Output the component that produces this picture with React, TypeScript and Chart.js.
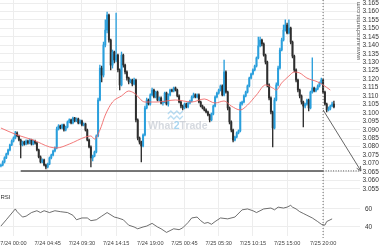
import React, { useEffect, useRef } from 'react';
import { Chart, registerables } from 'chart.js';
Chart.register(...registerables);

const SLOT_COUNT = 200;

const tickIndex = [7, 26, 45, 64, 83, 102, 121, 140, 159, 179];
const tickLabels = ['7/24 00:00', '7/24 04:45', '7/24 09:30', '7/24 14:15', '7/24 19:00', '7/25 00:45', '7/25 05:30', '7/25 10:15', '7/25 15:00', '7/25 20:00'];
const priceTicks = [3.055, 3.06, 3.065, 3.07, 3.075, 3.08, 3.085, 3.09, 3.095, 3.1, 3.105, 3.11, 3.115, 3.12, 3.125, 3.13, 3.135, 3.14, 3.145, 3.15, 3.155, 3.16, 3.165];
const rsiTicks = [40, 60];

const openPrices = [
  3.0685,3.0691,3.0709,3.0733,3.0756,3.0780,3.0810,3.0833,3.0851,3.0881,
  3.0863,3.0839,3.0810,3.0827,3.0815,3.0833,3.0821,3.0839,3.0815,3.0833,
  3.0821,3.0780,3.0739,3.0709,3.0721,3.0691,3.0679,3.0697,3.0733,3.0750,
  3.0774,3.0792,3.0904,3.0922,3.0910,3.0928,3.0898,3.0916,3.0946,3.0958,
  3.0940,3.0969,3.0952,3.0964,3.0940,3.0952,3.0928,3.0934,3.0898,3.0839,
  3.0798,3.0733,3.0744,3.0768,3.0863,3.1076,3.1265,3.1224,3.1402,3.1490,
  3.1579,3.1431,3.1283,3.1360,3.1313,3.1342,3.1254,3.1165,3.1342,3.1283,
  3.1242,3.1206,3.1183,3.1194,3.1171,3.1194,3.0958,3.0851,3.0827,3.0804,
  3.0869,3.1029,3.1076,3.1052,3.1106,3.1135,3.1094,3.1123,3.1076,3.1088,
  3.1058,3.1064,3.1117,3.1052,3.1106,3.1135,3.1129,3.1147,3.1135,3.1100,
  3.1064,3.1040,3.1029,3.1052,3.1035,3.1058,3.1070,3.1094,3.1106,3.1094,
  3.1106,3.1064,3.1040,3.1029,3.1017,3.1005,3.0987,3.0958,3.0993,3.1040,
  3.1094,3.1117,3.1135,3.1159,3.1106,3.1242,3.1123,3.1029,3.0946,3.0898,
  3.0839,3.0857,3.0881,3.0893,3.1052,3.1064,3.1100,3.1123,3.1159,3.1206,
  3.1230,3.1254,3.1277,3.1325,3.1396,3.1431,3.1408,3.1342,3.1301,3.1165,
  3.1088,3.1005,3.0910,3.1076,3.1165,3.1265,3.1372,3.1431,3.1490,3.1520,
  3.1473,3.1502,3.1419,3.1336,3.1254,3.1194,3.1135,3.1100,3.1064,3.1040,
  3.1052,3.1076,3.1029,3.1123,3.1147,3.1129,3.1141,3.1159,3.1177,3.1194,
  3.1123,3.1052,3.1017,3.1023,3.1040,3.1052
];
const highPrices = [
  3.0697,3.0715,3.0740,3.0762,3.0786,3.0815,3.0840,3.0858,3.0890,3.0887,
  3.0868,3.0845,3.0833,3.0832,3.0840,3.0838,3.0846,3.0844,3.0839,3.0838,
  3.0826,3.0786,3.0745,3.0727,3.0726,3.0697,3.0703,3.0739,3.0756,3.0780,
  3.0798,3.0916,3.0930,3.0927,3.0934,3.0933,3.0922,3.0952,3.0965,3.0963,
  3.0975,3.0974,3.0970,3.0969,3.0958,3.0957,3.0940,3.0939,3.0904,3.0845,
  3.0804,3.0750,3.0774,3.0870,3.1088,3.1283,3.1277,3.1419,3.1550,3.1597,
  3.1585,3.1437,3.1372,3.1366,3.1591,3.1348,3.1260,3.1360,3.1348,3.1289,
  3.1248,3.1212,3.1200,3.1200,3.1206,3.1200,3.0964,3.0857,3.0833,3.0875,
  3.1040,3.1088,3.1082,3.1112,3.1147,3.1141,3.1129,3.1129,3.1094,3.1094,
  3.1070,3.1123,3.1123,3.1112,3.1141,3.1141,3.1153,3.1153,3.1141,3.1106,
  3.1070,3.1046,3.1058,3.1058,3.1064,3.1076,3.1100,3.1117,3.1112,3.1112,
  3.1112,3.1070,3.1046,3.1035,3.1023,3.1011,3.0993,3.0999,3.1046,3.1100,
  3.1123,3.1141,3.1165,3.1165,3.1313,3.1248,3.1129,3.1035,3.0952,3.0904,
  3.0863,3.0887,3.0899,3.1064,3.1070,3.1106,3.1129,3.1165,3.1212,3.1236,
  3.1260,3.1283,3.1331,3.1449,3.1449,3.1437,3.1414,3.1348,3.1307,3.1171,
  3.1094,3.1011,3.1088,3.1177,3.1277,3.1384,3.1443,3.1520,3.1550,3.1532,
  3.1550,3.1508,3.1425,3.1342,3.1260,3.1200,3.1141,3.1106,3.1070,3.1058,
  3.1082,3.1082,3.1129,3.1325,3.1153,3.1147,3.1165,3.1183,3.1206,3.1200,
  3.1129,3.1058,3.1035,3.1046,3.1064,3.1070
];
const lowPrices = [
  3.0679,3.0686,3.0703,3.0728,3.0750,3.0774,3.0805,3.0827,3.0846,3.0857,
  3.0833,3.0733,3.0804,3.0809,3.0810,3.0815,3.0816,3.0809,3.0810,3.0815,
  3.0774,3.0733,3.0703,3.0704,3.0685,3.0668,3.0673,3.0692,3.0727,3.0745,
  3.0768,3.0786,3.0898,3.0904,3.0904,3.0892,3.0893,3.0910,3.0940,3.0934,
  3.0935,3.0946,3.0947,3.0934,3.0935,3.0922,3.0922,3.0892,3.0833,3.0792,
  3.0679,3.0715,3.0739,3.0762,3.0857,3.1070,3.1183,3.1212,3.1390,3.1473,
  3.1419,3.1254,3.1265,3.1295,3.1301,3.1242,3.1135,3.1159,3.1271,3.1230,
  3.1194,3.1171,3.1177,3.1159,3.1165,3.0946,3.0839,3.0815,3.0709,3.0798,
  3.0863,3.1023,3.1046,3.1046,3.1100,3.1088,3.1088,3.1070,3.1070,3.1052,
  3.1046,3.1058,3.1046,3.1040,3.1100,3.1123,3.1123,3.1129,3.1094,3.1058,
  3.1029,3.1017,3.1023,3.1029,3.1029,3.1052,3.1064,3.1088,3.1088,3.1088,
  3.1058,3.1035,3.1023,3.1011,3.0999,3.0981,3.0946,3.0952,3.0987,3.1035,
  3.1088,3.1111,3.1129,3.1100,3.1100,3.1117,3.1017,3.0934,3.0887,3.0827,
  3.0833,3.0851,3.0875,3.0887,3.1046,3.1058,3.1094,3.1117,3.1153,3.1200,
  3.1224,3.1248,3.1271,3.1319,3.1390,3.1396,3.1336,3.1289,3.1153,3.1076,
  3.0993,3.0798,3.0904,3.1070,3.1159,3.1259,3.1366,3.1425,3.1484,3.1467,
  3.1467,3.1408,3.1325,3.1242,3.1183,3.1123,3.1088,3.1052,3.0916,3.1029,
  3.1046,3.1011,3.1023,3.1117,3.1123,3.1123,3.1135,3.1153,3.1171,3.1117,
  3.1046,3.1005,3.1011,3.1017,3.1035,3.1029
];
const closePrices = [
  3.0691,3.0709,3.0733,3.0756,3.0780,3.0810,3.0833,3.0851,3.0881,3.0863,
  3.0839,3.0810,3.0827,3.0815,3.0833,3.0821,3.0839,3.0815,3.0833,3.0821,
  3.0780,3.0739,3.0709,3.0721,3.0691,3.0679,3.0697,3.0733,3.0750,3.0774,
  3.0792,3.0904,3.0922,3.0910,3.0928,3.0898,3.0916,3.0946,3.0958,3.0940,
  3.0969,3.0952,3.0964,3.0940,3.0952,3.0928,3.0934,3.0898,3.0839,3.0798,
  3.0733,3.0744,3.0768,3.0863,3.1076,3.1265,3.1224,3.1402,3.1490,3.1579,
  3.1431,3.1283,3.1360,3.1313,3.1342,3.1254,3.1165,3.1342,3.1283,3.1242,
  3.1206,3.1183,3.1194,3.1171,3.1194,3.0958,3.0851,3.0827,3.0804,3.0869,
  3.1029,3.1076,3.1052,3.1106,3.1135,3.1094,3.1123,3.1076,3.1088,3.1058,
  3.1064,3.1117,3.1052,3.1106,3.1135,3.1129,3.1147,3.1135,3.1100,3.1064,
  3.1040,3.1029,3.1052,3.1035,3.1058,3.1070,3.1094,3.1106,3.1094,3.1106,
  3.1064,3.1040,3.1029,3.1017,3.1005,3.0987,3.0958,3.0993,3.1040,3.1094,
  3.1117,3.1135,3.1159,3.1106,3.1242,3.1123,3.1029,3.0946,3.0898,3.0839,
  3.0857,3.0881,3.0893,3.1052,3.1064,3.1100,3.1123,3.1159,3.1206,3.1230,
  3.1254,3.1277,3.1325,3.1396,3.1431,3.1408,3.1342,3.1301,3.1165,3.1088,
  3.1005,3.0910,3.1076,3.1165,3.1265,3.1372,3.1431,3.1490,3.1520,3.1473,
  3.1502,3.1419,3.1336,3.1254,3.1194,3.1135,3.1100,3.1064,3.1040,3.1052,
  3.1076,3.1029,3.1123,3.1147,3.1129,3.1141,3.1159,3.1177,3.1194,3.1123,
  3.1052,3.1017,3.1023,3.1040,3.1052,3.1035
];

const maIndex = [0, 9, 18, 27, 31, 38, 47, 50, 52, 55, 58, 62, 67, 71, 74, 80, 87, 97, 106, 113, 119, 124, 128, 133, 137, 142, 147, 151, 153, 156, 160, 163, 166, 170, 176, 179, 183];
const maValues = [3.0910, 3.0869, 3.0839, 3.0798, 3.0792, 3.0815, 3.0857, 3.0863, 3.0845, 3.0898, 3.0987, 3.1064, 3.1100, 3.1129, 3.1117, 3.1064, 3.1064, 3.1076, 3.1064, 3.1082, 3.1058, 3.1070, 3.1040, 3.1017, 3.1046, 3.1106, 3.1165, 3.1147, 3.1135, 3.1177, 3.1218, 3.1242, 3.1236, 3.1206, 3.1183, 3.1165, 3.1135];

const rsiIndex = [0, 3, 8, 9, 12, 14, 17, 20, 22, 24, 27, 30, 33, 37, 40, 42, 45, 48, 50, 53, 56, 59, 63, 65, 68, 71, 74, 76, 79, 81, 84, 87, 89, 92, 96, 99, 101, 104, 106, 109, 111, 113, 115, 117, 119, 122, 126, 130, 134, 137, 140, 142, 146, 150, 152, 154, 157, 159, 161, 162, 164, 166, 168, 170, 173, 176, 178, 180, 181, 184];
const rsiValues = [41, 48, 60, 57, 51, 52, 56, 58, 56, 58, 56, 58, 57, 56, 53, 48, 50, 50, 47, 48, 52, 56, 51, 50, 48, 42, 40, 38, 40, 41, 44, 40, 38, 34, 38, 37, 39, 45, 50, 51, 47, 44, 45, 43, 46, 50, 49, 51, 59, 60, 58, 56, 60, 61, 59, 62, 61, 62, 64, 62, 60, 57, 55, 53, 50, 46, 43, 42, 46, 49];

const supportLevel = 3.0656;
const supportStartIndex = 11;
const signalIndex = 179;
const signalPrice = 3.1017;
const arrowEndIndex = 200;

const UP = '#2a9fdc';
const DOWN = '#2e2e2e';
const FONT = '"Liberation Sans", Arial, sans-serif';

const overlayPlugin = {
  id: 'overlay',
  beforeDatasetsDraw(chart: any) {
    const { ctx, chartArea } = chart;
    ctx.save();
    const cx = chartArea.left + (chartArea.right - chartArea.left) * 0.494;
    const cy = 126;
    ctx.font = `bold 10.5px ${FONT}`;
    ctx.textBaseline = 'middle';
    ctx.textAlign = 'left';
    const parts: [string, string][] = [
      ['What', 'rgba(178,186,196,0.55)'],
      ['2', 'rgba(100,180,228,0.55)'],
      ['Trade', 'rgba(178,186,196,0.55)'],
    ];
    const total = parts.reduce((s, p) => s + ctx.measureText(p[0]).width, 0);
    let x = cx - total / 2;
    for (const [t, c] of parts) {
      ctx.fillStyle = c;
      ctx.fillText(t, x, cy);
      x += ctx.measureText(t).width;
    }
    ctx.strokeStyle = 'rgba(100,180,228,0.45)';
    ctx.lineWidth = 1.3;
    for (const dy of [-14, -9]) {
      ctx.beginPath();
      ctx.moveTo(cx - 10, cy + dy + 2);
      ctx.lineTo(cx - 7, cy + dy - 1);
      ctx.lineTo(cx - 4, cy + dy + 2);
      ctx.lineTo(cx - 1, cy + dy - 1);
      ctx.lineTo(cx + 2, cy + dy + 2);
      ctx.lineTo(cx + 5, cy + dy - 1);
      ctx.stroke();
    }
    ctx.restore();
  },
  afterDraw(chart: any) {
    const { ctx, chartArea, scales } = chart;
    const xs = scales.x;
    const ys = scales.y;
    const rs = scales.rsi;
    ctx.save();

    const sy = ys.getPixelForValue(supportLevel);
    const vx = xs.getPixelForValue(signalIndex);
    const ex = xs.getPixelForValue(arrowEndIndex);
    ctx.strokeStyle = '#4d4d4d';
    ctx.lineWidth = 1.5;
    ctx.beginPath();
    ctx.moveTo(xs.getPixelForValue(supportStartIndex), sy);
    ctx.lineTo(vx, sy);
    ctx.stroke();
    ctx.lineWidth = 1;
    ctx.setLineDash([1, 1.5]);
    ctx.beginPath();
    ctx.moveTo(vx, sy);
    ctx.lineTo(ex, sy);
    ctx.stroke();

    ctx.strokeStyle = '#6a6a6a';
    ctx.setLineDash([1, 2]);
    ctx.beginPath();
    ctx.moveTo(vx, chartArea.top);
    ctx.lineTo(vx, chartArea.bottom + 3);
    ctx.stroke();
    ctx.setLineDash([]);

    const ay = ys.getPixelForValue(signalPrice);
    ctx.strokeStyle = '#555';
    ctx.lineWidth = 0.9;
    ctx.beginPath();
    ctx.moveTo(vx, ay);
    ctx.lineTo(ex, sy);
    ctx.stroke();
    const ang = Math.atan2(sy - ay, ex - vx);
    const hl = 5;
    ctx.beginPath();
    ctx.moveTo(ex - hl * Math.cos(ang - 0.45), sy - hl * Math.sin(ang - 0.45));
    ctx.lineTo(ex, sy);
    ctx.lineTo(ex - hl * Math.cos(ang + 0.45), sy - hl * Math.sin(ang + 0.45));
    ctx.stroke();

    ctx.fillStyle = '#333';
    ctx.textBaseline = 'middle';
    ctx.textAlign = 'left';
    ctx.font = `6.5px ${FONT}`;
    for (const v of priceTicks) {
      ctx.fillText(v.toFixed(3), chartArea.right + 2.5, ys.getPixelForValue(v));
    }
    for (const v of rsiTicks) {
      ctx.fillText(String(v), chartArea.right + 5, rs.getPixelForValue(v));
    }

    ctx.fillStyle = '#444';
    ctx.font = `5.6px ${FONT}`;
    ctx.textAlign = 'center';
    tickIndex.forEach((ix, k) => {
      ctx.fillText(tickLabels[k], xs.getPixelForValue(ix), chartArea.bottom + 7);
    });

    ctx.fillStyle = '#333';
    ctx.textAlign = 'left';
    ctx.font = `6px ${FONT}`;
    ctx.fillText('RSI', 0.5, rs.top + 7);

    ctx.save();
    ctx.translate(chartArea.right - 1.5, 60);
    ctx.rotate(-Math.PI / 2);
    ctx.fillStyle = '#555';
    ctx.font = `6px ${FONT}`;
    ctx.textAlign = 'left';
    ctx.textBaseline = 'middle';
    ctx.fillText('www.autochartist.com', 0, 0);
    ctx.restore();

    ctx.restore();
  },
};

export default function App() {
  const ref = useRef<HTMLCanvasElement>(null);
  useEffect(() => {
    const candleColors = closePrices.map((c, i) => (c >= openPrices[i] ? UP : DOWN));
    const chart = new Chart(ref.current as HTMLCanvasElement, {
      type: 'bar',
      data: {
        datasets: [
          {
            type: 'line',
            label: 'MA',
            data: maIndex.map((ix, k) => ({ x: ix, y: maValues[k] })),
            borderColor: '#f06a6a',
            borderWidth: 0.9,
            pointRadius: 0,
            cubicInterpolationMode: 'monotone',
            yAxisID: 'y',
            order: 0,
          },
          {
            type: 'line',
            label: 'RSI',
            data: rsiIndex.map((ix, k) => ({ x: ix, y: rsiValues[k] })),
            borderColor: '#4a4a4a',
            borderWidth: 0.8,
            pointRadius: 0,
            tension: 0,
            yAxisID: 'rsi',
            order: 0,
          },
          {
            type: 'bar',
            label: 'body',
            data: openPrices.map((o, i) => ({ x: i, y: [o, closePrices[i]] })),
            backgroundColor: candleColors,
            barThickness: 1.3,
            minBarLength: 0.8,
            grouped: false,
            yAxisID: 'y',
            order: 1,
          },
          {
            type: 'bar',
            label: 'wick',
            data: lowPrices.map((l, i) => ({ x: i, y: [l, highPrices[i]] })),
            backgroundColor: candleColors,
            barThickness: 0.7,
            grouped: false,
            yAxisID: 'y',
            order: 2,
          },
        ] as any,
      },
      options: {
        responsive: false,
        devicePixelRatio: 1,
        animation: false,
        layout: { padding: 0 },
        plugins: { legend: { display: false }, tooltip: { enabled: false } },
        scales: {
          x: {
            type: 'linear',
            min: -0.5,
            max: SLOT_COUNT - 0.5,
            offset: false,
            afterBuildTicks: (s: any) => { s.ticks = tickIndex.map((v) => ({ value: v })); },
            afterFit: (s: any) => { s.height = 14; },
            ticks: { display: false },
            grid: { color: '#ededed', drawTicks: false, offset: false },
            border: { display: false },
          },
          y: {
            type: 'linear',
            position: 'right',
            stack: 'panes',
            stackWeight: 190,
            min: 3.0543,
            max: 3.1668,
            beginAtZero: false,
            afterBuildTicks: (s: any) => { s.ticks = priceTicks.map((v) => ({ value: v })); },
            afterFit: (s: any) => { s.width = 20; },
            ticks: { display: false },
            grid: { color: '#ededed', drawTicks: false },
            border: { display: false },
          },
          rsi: {
            type: 'linear',
            position: 'right',
            stack: 'panes',
            stackWeight: 46,
            min: 30,
            max: 81,
            beginAtZero: false,
            afterBuildTicks: (s: any) => { s.ticks = rsiTicks.map((v) => ({ value: v })); },
            afterFit: (s: any) => { s.width = 20; },
            ticks: { display: false },
            grid: { color: '#ededed', drawTicks: false },
            border: { display: false },
          },
        },
      } as any,
      plugins: [overlayPlugin],
    });
    return () => chart.destroy();
  }, []);
  return (
    <div style={{ position: 'fixed', left: 0, top: 0, width: 380, height: 250, background: '#fff' }}>
      <canvas ref={ref} width={380} height={250} style={{ display: 'block', width: 380, height: 250 }} />
    </div>
  );
}
